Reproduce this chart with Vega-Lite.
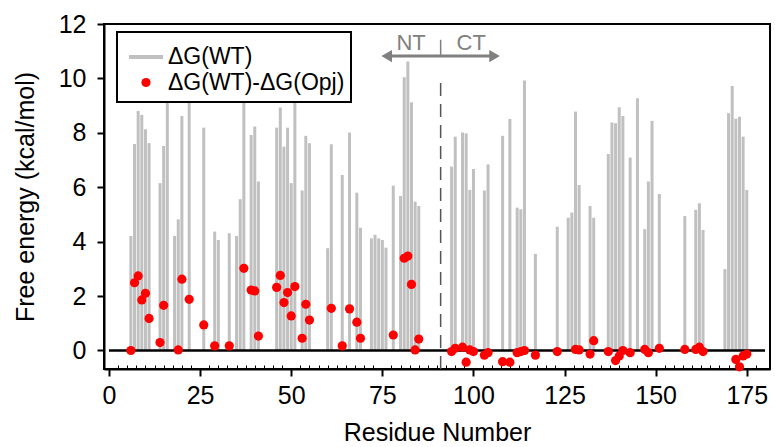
{
  "$schema": "https://vega.github.io/schema/vega-lite/v6.json",
  "autosize": "none",
  "width": 666,
  "height": 345,
  "padding": {"left": 104, "top": 24, "right": 5, "bottom": 78},
  "background": "white",
  "config": {
    "view": {"stroke": "black", "strokeWidth": 2},
    "font": "Liberation Sans",
    "legend": {"strokeWidth": 2},
    "axis": {
      "domainColor": "black", "domainWidth": 2, "tickColor": "black", "tickWidth": 2,
      "labelFont": "Liberation Sans", "labelFontSize": 25, "labelColor": "black",
      "titleFont": "Liberation Sans", "titleFontSize": 25, "titleFontWeight": "normal", "titleColor": "black",
      "grid": false
    }
  },
  "datasets": {
    "wt": [
      {"res": 6, "dg": 4.21}, {"res": 7, "dg": 7.59}, {"res": 8, "dg": 8.8}, {"res": 9, "dg": 8.66}, {"res": 10, "dg": 8.13}, {"res": 11, "dg": 7.62},
      {"res": 14, "dg": 6.15}, {"res": 15, "dg": 7.52}, {"res": 16, "dg": 9.17}, {"res": 18, "dg": 4.21}, {"res": 19, "dg": 4.82}, {"res": 20, "dg": 8.62},
      {"res": 22, "dg": 10.0}, {"res": 26, "dg": 8.19}, {"res": 29, "dg": 4.37}, {"res": 30, "dg": 4.06}, {"res": 33, "dg": 4.31}, {"res": 35, "dg": 4.21},
      {"res": 36, "dg": 5.56}, {"res": 37, "dg": 10.3}, {"res": 39, "dg": 7.92}, {"res": 40, "dg": 8.23}, {"res": 41, "dg": 6.21},
      {"res": 46, "dg": 8.19}, {"res": 47, "dg": 8.93}, {"res": 48, "dg": 7.49}, {"res": 49, "dg": 8.19}, {"res": 50, "dg": 6.15}, {"res": 51, "dg": 10.2},
      {"res": 53, "dg": 5.88}, {"res": 54, "dg": 7.89}, {"res": 55, "dg": 7.62}, {"res": 60, "dg": 3.76}, {"res": 61, "dg": 7.58}, {"res": 64, "dg": 6.45},
      {"res": 66, "dg": 8.01}, {"res": 68, "dg": 5.8}, {"res": 69, "dg": 4.51},
      {"res": 72, "dg": 4.12}, {"res": 73, "dg": 4.25}, {"res": 74, "dg": 4.12}, {"res": 75, "dg": 4.06}, {"res": 76, "dg": 3.78},
      {"res": 78, "dg": 6.06}, {"res": 80, "dg": 5.68}, {"res": 81, "dg": 10.04}, {"res": 82, "dg": 10.62}, {"res": 83, "dg": 9.12}, {"res": 84, "dg": 5.47}, {"res": 85, "dg": 5.31},
      {"res": 94, "dg": 6.76}, {"res": 95, "dg": 7.86}, {"res": 97, "dg": 8.01}, {"res": 98, "dg": 7.98}, {"res": 99, "dg": 5.9}, {"res": 100, "dg": 6.67},
      {"res": 103, "dg": 5.88}, {"res": 104, "dg": 6.84}, {"res": 108, "dg": 7.89}, {"res": 110, "dg": 8.51}, {"res": 112, "dg": 5.25}, {"res": 113, "dg": 5.19},
      {"res": 114, "dg": 9.92}, {"res": 117, "dg": 3.55}, {"res": 123, "dg": 4.55}, {"res": 126, "dg": 4.88}, {"res": 127, "dg": 5.07}, {"res": 128, "dg": 8.78},
      {"res": 129, "dg": 6.08}, {"res": 132, "dg": 5.31}, {"res": 133, "dg": 4.88}, {"res": 137, "dg": 7.22}, {"res": 138, "dg": 8.38}, {"res": 139, "dg": 8.35},
      {"res": 140, "dg": 8.94}, {"res": 141, "dg": 8.62}, {"res": 143, "dg": 7.09}, {"res": 145, "dg": 9.27}, {"res": 147, "dg": 4.46}, {"res": 148, "dg": 6.21},
      {"res": 149, "dg": 8.44}, {"res": 151, "dg": 5.75}, {"res": 158, "dg": 4.94}, {"res": 161, "dg": 5.17}, {"res": 162, "dg": 5.41}, {"res": 163, "dg": 4.43},
      {"res": 169, "dg": 2.99}, {"res": 170, "dg": 8.72}, {"res": 171, "dg": 9.72}, {"res": 172, "dg": 8.52}, {"res": 173, "dg": 8.59}, {"res": 174, "dg": 7.86}, {"res": 175, "dg": 5.9}
    ],
    "diff": [
      {"res": 6, "ddg": 0}, {"res": 7, "ddg": 2.49}, {"res": 8, "ddg": 2.74}, {"res": 9, "ddg": 1.86}, {"res": 10, "ddg": 2.1}, {"res": 11, "ddg": 1.18},
      {"res": 14, "ddg": 0.29}, {"res": 15, "ddg": 1.66}, {"res": 19, "ddg": 0.02}, {"res": 20, "ddg": 2.62}, {"res": 22, "ddg": 1.88}, {"res": 26, "ddg": 0.94},
      {"res": 29, "ddg": 0.17}, {"res": 33, "ddg": 0.17}, {"res": 37, "ddg": 3.02}, {"res": 39, "ddg": 2.22}, {"res": 40, "ddg": 2.19}, {"res": 41, "ddg": 0.53},
      {"res": 46, "ddg": 2.32}, {"res": 47, "ddg": 2.76}, {"res": 48, "ddg": 1.76}, {"res": 49, "ddg": 2.13}, {"res": 50, "ddg": 1.27}, {"res": 51, "ddg": 2.35},
      {"res": 53, "ddg": 0.45}, {"res": 54, "ddg": 1.7}, {"res": 55, "ddg": 1.12}, {"res": 61, "ddg": 1.55}, {"res": 64, "ddg": 0.17}, {"res": 66, "ddg": 1.53},
      {"res": 68, "ddg": 1.04}, {"res": 69, "ddg": 0.45}, {"res": 78, "ddg": 0.57}, {"res": 81, "ddg": 3.39}, {"res": 82, "ddg": 3.47}, {"res": 83, "ddg": 2.43},
      {"res": 84, "ddg": 0.02}, {"res": 85, "ddg": 0.42},
      {"res": 94, "ddg": -0.04}, {"res": 95, "ddg": 0.08}, {"res": 97, "ddg": 0.12}, {"res": 98, "ddg": -0.43}, {"res": 99, "ddg": 0.02}, {"res": 100, "ddg": -0.04},
      {"res": 103, "ddg": -0.17}, {"res": 104, "ddg": -0.08}, {"res": 108, "ddg": -0.41}, {"res": 110, "ddg": -0.43}, {"res": 112, "ddg": -0.08}, {"res": 113, "ddg": -0.04},
      {"res": 114, "ddg": 0}, {"res": 117, "ddg": -0.17}, {"res": 123, "ddg": -0.04}, {"res": 128, "ddg": 0.04}, {"res": 129, "ddg": 0.02}, {"res": 132, "ddg": -0.13},
      {"res": 133, "ddg": 0.36}, {"res": 137, "ddg": -0.04}, {"res": 139, "ddg": -0.37}, {"res": 140, "ddg": -0.2}, {"res": 141, "ddg": 0}, {"res": 143, "ddg": -0.08},
      {"res": 147, "ddg": 0.04}, {"res": 148, "ddg": -0.08}, {"res": 151, "ddg": 0.08}, {"res": 158, "ddg": 0.04}, {"res": 161, "ddg": 0.04}, {"res": 162, "ddg": 0.12},
      {"res": 163, "ddg": -0.04}, {"res": 172, "ddg": -0.33}, {"res": 173, "ddg": -0.6}, {"res": 174, "ddg": -0.2}, {"res": 175, "ddg": -0.13}
    ],
    "labels": [
      {"x": 82.9, "y": 11.3, "t": "NT"},
      {"x": 99.4, "y": 11.3, "t": "CT"}
    ],
    "arrow": [{"x": 76, "x2": 106, "y": 10.82}],
    "headL": [{"x": 76.2, "y": 10.82}],
    "headR": [{"x": 105.8, "y": 10.82}],
    "sep": [{"x": 91.0, "y": 10.82, "y2": 11.42}],
    "divider": [{"x": 91.0, "y": -0.68, "y2": 10.13}],
    "zero": [{"x": 0, "x2": 180, "y": 0}]
  },
  "layer": [
    {
      "data": {"name": "wt"},
      "mark": {"type": "bar", "color": "#c0c0c0", "size": 3},
      "encoding": {
        "x": {"field": "res", "type": "quantitative", "scale": {"domain": [0, 180], "nice": false, "zero": false},
          "axis": {"orient": "bottom", "values": [0, 25, 50, 75, 100, 125, 150, 175], "tickSize": 7, "labelPadding": 7, "title": "Residue Number", "titlePadding": 12}},
        "y": {"field": "dg", "type": "quantitative", "scale": {"domain": [-0.68, 12], "nice": false, "zero": false},
          "axis": {"values": [0, 2, 4, 6, 8, 10, 12], "tickSize": 7, "labelPadding": 11, "title": "Free energy (kcal/mol)", "titlePadding": 20}}
      }
    },
    {
      "data": {"name": "divider"},
      "mark": {"type": "rule", "color": "#555555", "strokeWidth": 1.5, "strokeDash": [13, 8]},
      "encoding": {
        "x": {"field": "x", "type": "quantitative",
          "axis": {"orient": "bottom", "values": [2.5, 5, 7.5, 10, 12.5, 15, 17.5, 20, 22.5, 27.5, 30, 32.5, 35, 37.5, 40, 42.5, 45, 47.5, 52.5, 55, 57.5, 60, 62.5, 65, 67.5, 70, 72.5, 77.5, 80, 82.5, 85, 87.5, 90, 92.5, 95, 97.5, 102.5, 105, 107.5, 110, 112.5, 115, 117.5, 120, 122.5, 127.5, 130, 132.5, 135, 137.5, 140, 142.5, 145, 147.5, 152.5, 155, 157.5, 160, 162.5, 165, 167.5, 170, 172.5, 177.5],
            "tickSize": -4, "tickWidth": 1, "labels": false, "domain": false, "title": null}},
        "y": {"field": "y", "type": "quantitative"},
        "y2": {"field": "y2"}
      }
    },
    {
      "data": {"name": "zero"},
      "mark": {"type": "rule", "color": "black", "strokeWidth": 2.5},
      "encoding": {
        "x": {"field": "x", "type": "quantitative", "axis": null},
        "x2": {"field": "x2"},
        "y": {"field": "y", "type": "quantitative"}
      }
    },
    {
      "data": {"name": "arrow"},
      "mark": {"type": "rule", "color": "#808080", "strokeWidth": 3},
      "encoding": {
        "x": {"field": "x", "type": "quantitative", "axis": null},
        "x2": {"field": "x2"},
        "y": {"field": "y", "type": "quantitative"}
      }
    },
    {
      "data": {"name": "sep"},
      "mark": {"type": "rule", "color": "#808080", "strokeWidth": 1.5},
      "encoding": {
        "x": {"field": "x", "type": "quantitative", "axis": null},
        "y": {"field": "y", "type": "quantitative"},
        "y2": {"field": "y2"}
      }
    },
    {
      "data": {"name": "headL"},
      "mark": {"type": "point", "filled": true, "color": "#808080", "size": 150, "opacity": 1, "shape": "triangle-left"},
      "encoding": {
        "x": {"field": "x", "type": "quantitative", "axis": null},
        "y": {"field": "y", "type": "quantitative"}
      }
    },
    {
      "data": {"name": "headR"},
      "mark": {"type": "point", "filled": true, "color": "#808080", "size": 150, "opacity": 1, "shape": "triangle-right"},
      "encoding": {
        "x": {"field": "x", "type": "quantitative", "axis": null},
        "y": {"field": "y", "type": "quantitative"}
      }
    },
    {
      "data": {"name": "labels"},
      "mark": {"type": "text", "color": "#808080", "fontSize": 22, "font": "Liberation Sans", "baseline": "middle", "align": "center"},
      "encoding": {
        "x": {"field": "x", "type": "quantitative", "axis": null},
        "y": {"field": "y", "type": "quantitative"},
        "text": {"field": "t", "type": "nominal"}
      }
    },
    {
      "data": {"name": "diff"},
      "mark": {"type": "point", "filled": true, "strokeWidth": 4, "opacity": 1},
      "encoding": {
        "x": {"field": "res", "type": "quantitative", "axis": null},
        "y": {"field": "ddg", "type": "quantitative"},
        "fill": {
          "datum": "ΔG(WT)-ΔG(Opj)", "type": "nominal",
          "scale": {"domain": ["ΔG(WT)", "ΔG(WT)-ΔG(Opj)"], "range": ["#c0c0c0", "#ff0000"]},
          "legend": {"title": null, "orient": "none", "legendX": 13, "legendY": 8, "padding": 6, "rowPadding": 0, "fillColor": "white", "strokeColor": "black",
            "labelFont": "Liberation Sans", "labelFontSize": 23, "labelColor": "black", "labelLimit": 400, "labelOffset": 3, "symbolOffset": 4, "symbolStrokeWidth": 4, "symbolOpacity": 1}
        },
        "stroke": {
          "datum": "ΔG(WT)-ΔG(Opj)", "type": "nominal",
          "scale": {"domain": ["ΔG(WT)", "ΔG(WT)-ΔG(Opj)"], "range": ["#c0c0c0", "transparent"]},
          "legend": {"title": null, "orient": "none", "legendX": 13, "legendY": 8, "padding": 6, "rowPadding": 0, "fillColor": "white", "strokeColor": "black",
            "labelFont": "Liberation Sans", "labelFontSize": 23, "labelColor": "black", "labelLimit": 400, "labelOffset": 3, "symbolOffset": 4, "symbolStrokeWidth": 4, "symbolOpacity": 1}
        },
        "shape": {
          "datum": "ΔG(WT)-ΔG(Opj)", "type": "nominal",
          "scale": {"domain": ["ΔG(WT)", "ΔG(WT)-ΔG(Opj)"], "range": ["stroke", "circle"]},
          "legend": {"title": null, "orient": "none", "legendX": 13, "legendY": 8, "padding": 6, "rowPadding": 0, "fillColor": "white", "strokeColor": "black",
            "labelFont": "Liberation Sans", "labelFontSize": 23, "labelColor": "black", "labelLimit": 400, "labelOffset": 3, "symbolOffset": 4, "symbolStrokeWidth": 4, "symbolOpacity": 1}
        },
        "size": {
          "datum": "ΔG(WT)-ΔG(Opj)", "type": "ordinal",
          "scale": {"domain": ["ΔG(WT)", "ΔG(WT)-ΔG(Opj)"], "range": [1156, 85]},
          "legend": {"title": null, "orient": "none", "legendX": 13, "legendY": 8, "padding": 6, "rowPadding": 0, "fillColor": "white", "strokeColor": "black",
            "labelFont": "Liberation Sans", "labelFontSize": 23, "labelColor": "black", "labelLimit": 400, "labelOffset": 3, "symbolOffset": 4, "symbolStrokeWidth": 4, "symbolOpacity": 1}
        }
      }
    }
  ],
  "resolve": {"axis": {"x": "independent"}}
}
